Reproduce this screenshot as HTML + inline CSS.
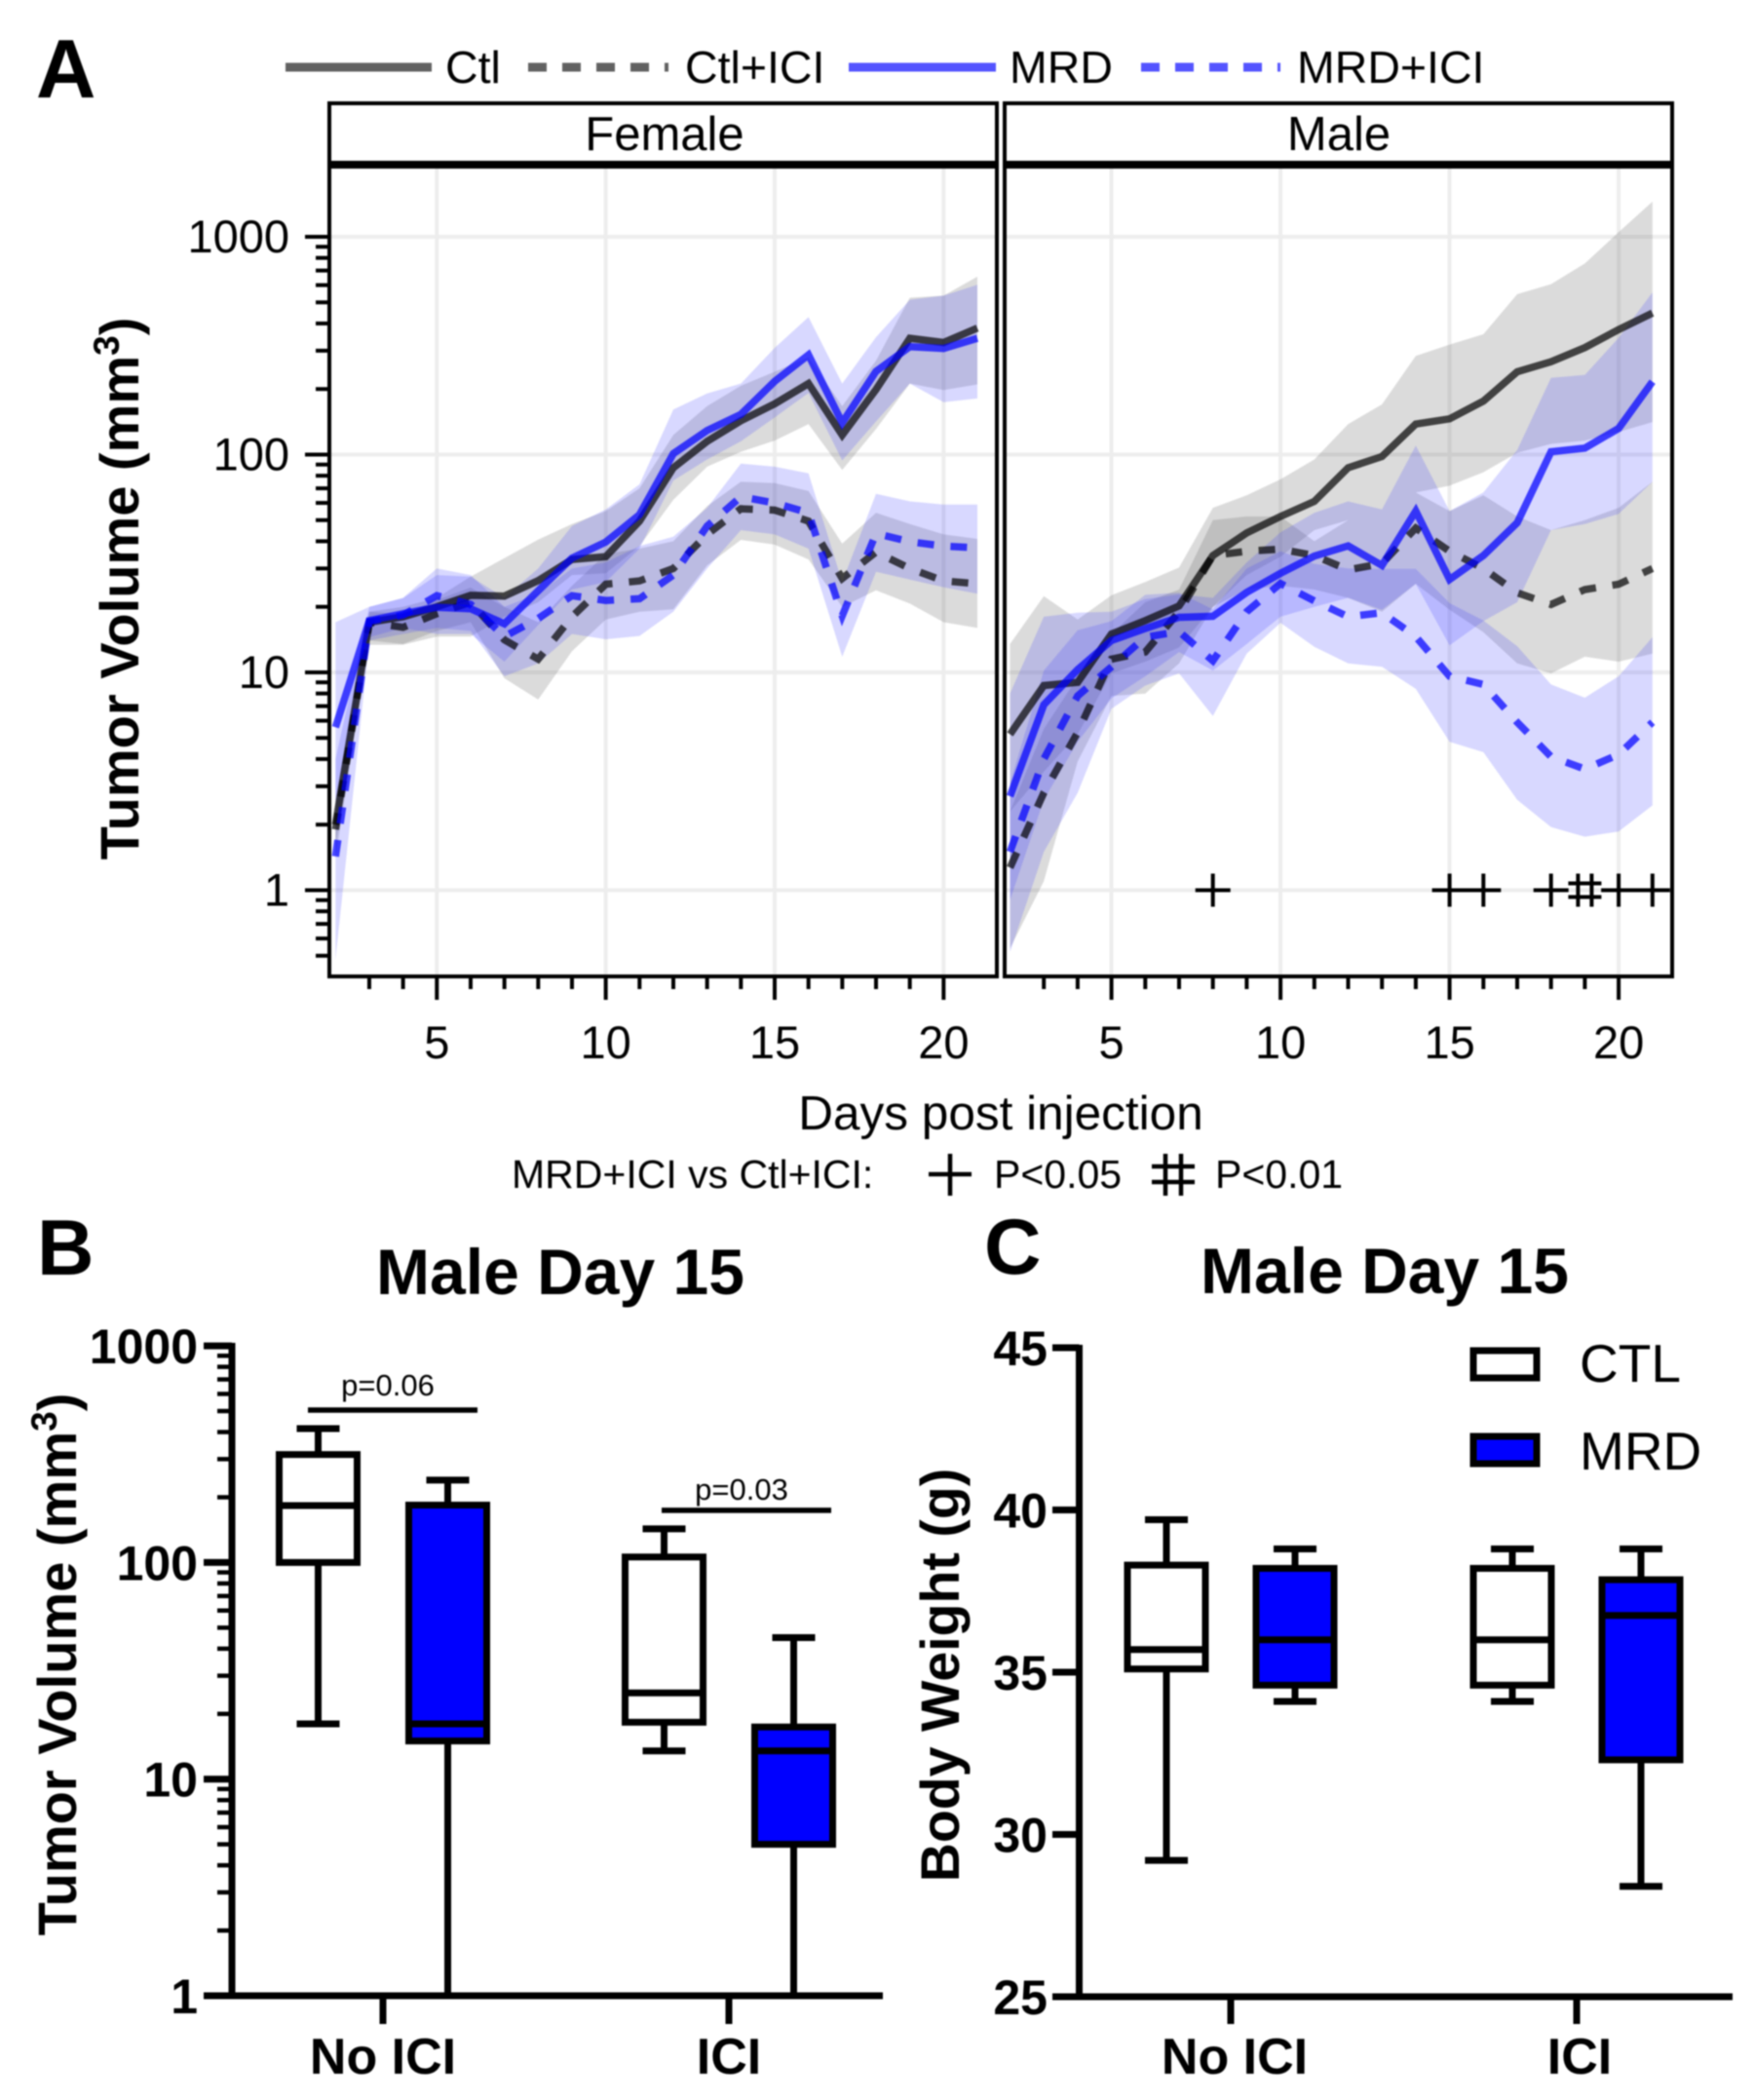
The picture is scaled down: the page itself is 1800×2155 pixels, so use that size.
<!DOCTYPE html>
<html lang="en">
<head>
<meta charset="utf-8">
<title>Tumor volume and body weight</title>
<style>
html,body{margin:0;padding:0;background:#fff}
svg{display:block;filter:blur(0.7px)}
text{font-family:"Liberation Sans",Arial,sans-serif;fill:#000}
.b{font-weight:bold}
</style>
</head>
<body>
<svg id="fig" xmlns="http://www.w3.org/2000/svg" width="1800" height="2155" viewBox="0 0 1800 2155">
<rect x="0" y="0" width="1800" height="2155" fill="#fff"/>

<text class="b" x="37" y="100" font-size="85">A</text>
<text class="b" x="38" y="1308" font-size="81">B</text>
<text class="b" x="1010" y="1307" font-size="81">C</text>

<g>
<line x1="293" y1="69" x2="443" y2="69" stroke="#000" stroke-opacity=".62" stroke-width="9"/>
<text x="457" y="85" font-size="46.5">Ctl</text>
<line x1="542" y1="69" x2="686" y2="69" stroke="#000" stroke-opacity=".62" stroke-width="9" stroke-dasharray="19 16"/>
<text x="703" y="85" font-size="46.5">Ctl+ICI</text>
<line x1="871" y1="69" x2="1022" y2="69" stroke="#0000ff" stroke-opacity=".67" stroke-width="9"/>
<text x="1036" y="85" font-size="46.5">MRD</text>
<line x1="1171" y1="69" x2="1314" y2="69" stroke="#0000ff" stroke-opacity=".67" stroke-width="9" stroke-dasharray="19 16"/>
<text x="1331" y="85" font-size="46.5">MRD+ICI</text>
</g>

<g id="panelA"></g>

<text class="b" transform="translate(142,604) rotate(-90)" text-anchor="middle" font-size="56">Tumor Volume (mm<tspan font-size="37" dy="-20">3</tspan><tspan dy="20">)</tspan></text>
<text x="1027" y="1159" text-anchor="middle" font-size="49.5">Days post injection</text>

<g>
<text x="525" y="1219" font-size="41">MRD+ICI vs Ctl+ICI:</text>
<g stroke="#000" stroke-width="4.5"><line x1="953" y1="1205" x2="997" y2="1205"/><line x1="975" y1="1184" x2="975" y2="1227"/></g>
<text x="1020" y="1219" font-size="41">P&lt;0.05</text>
<g stroke="#000" stroke-width="4.5"><line x1="1182" y1="1197" x2="1226" y2="1197"/><line x1="1182" y1="1213" x2="1226" y2="1213"/><line x1="1196" y1="1184" x2="1196" y2="1227"/><line x1="1212" y1="1184" x2="1212" y2="1227"/></g>
<text x="1247" y="1219" font-size="41">P&lt;0.01</text>
</g>

<text class="b" x="575" y="1328" text-anchor="middle" font-size="66">Male Day 15</text>
<text class="b" x="1421" y="1327" text-anchor="middle" font-size="66">Male Day 15</text>

<g id="panelB"></g>
<text class="b" transform="translate(78,1708) rotate(-90)" text-anchor="middle" font-size="56">Tumor Volume (mm<tspan font-size="37" dy="-20">3</tspan><tspan dy="20">)</tspan></text>

<g id="panelC"></g>
<text class="b" transform="translate(984,1719) rotate(-90)" text-anchor="middle" font-size="55.5">Body Weight (g)</text>

<g>
<rect x="1512" y="1386" width="65" height="28" fill="#fff" stroke="#000" stroke-width="7"/>
<text x="1621" y="1418" font-size="55">CTL</text>
<rect x="1512" y="1474" width="65" height="28" fill="#0000ff" stroke="#000" stroke-width="7"/>
<text x="1621" y="1508" font-size="55">MRD</text>
</g>
</svg>

<script>
// ---------- Panel A data (days post injection, mean and ribbon bounds, mm3) ----------
const days = [2,3,4,5,6,7,8,9,10,11,12,13,14,15,16,17,18,19,20,21];
const dayTicksMajor = [5,10,15,20];
const dayTicksMinor = [3,4,6,7,8,9,11,12,13,14,16,17,18,19];
const volumeTicks = [1,10,100,1000];
const volumeTickLabels = ["1","10","100","1000"];
const volumeMinorTicks = [0.5,0.6,0.7,0.8,0.9,2,3,4,5,6,7,8,9,20,30,40,50,60,70,80,90,200,300,400,500,600,700,800,900];

const femaleCtl = [2.0,17,18,20,22.6,22.4,26.4,33,34,49.5,87,115,143,171,212,123,199,342,327,381];
const femaleCtlUpper = [2.6,19,20,22,27.5,33.5,40.7,48,55,70,123,167,207,240,280,167,270,525,537,656];
const femaleCtlLower = [1.6,13.4,13.4,14.6,14.6,18,21,28,28.5,38,62,88,103,116,138,85,131,212,198,210];
const femaleCtlIci = [1.9,17,16.1,18.6,21,14.1,11.5,18,25.4,26.3,30,43,56.4,55.6,49.5,27,35.7,30,26.3,25.5];
const femaleCtlIciUpper = [2.4,19,18.5,21.5,24.5,20,17,25,35,37,40,58,75,74,68,39,54,48,43,41];
const femaleCtlIciLower = [1.4,14,13.5,15.5,17,9.4,7.5,12.5,17.5,19,19.5,31,40.6,38.6,33,20,23.8,20.7,17,16];
const femaleMrd = [5.6,17.3,18.6,19.9,19.6,16.7,23.7,33.5,39.7,53,101,129,153,217,287,140,241,313,307,342];
const femaleMrdUpper = [17,20,21.9,28,27.5,22,30,47,56,73,161,191,212,309,428,212,346,514,537,602];
const femaleMrdLower = [2.6,14.5,16,15,15,11.2,16.5,24,26,37,76,95,115,148,192,94,142,212,174,181];
const femaleMrdIci = [1.43,17.1,18.3,22.5,20.5,14.6,17.7,22.5,21.4,21.8,28,47,64,60,54,18.2,43.4,39.8,38,37.3];
const femaleMrdIciUpper = [4,20,22,30,28,20,23,30,32,38,42,57,91,88,82,26,66,61,59,59];
const femaleMrdIciLower = [0.48,14,15,16,15.5,9.6,11,15,14.2,14.7,19,30,45,43,37,11.8,29,26.7,24.6,23];

const maleCtl = [5.2,8.7,9,15,17.3,20.2,34.4,43.7,52,61,87,98,138,146,176,240,267,310,375,447];
const maleCtlUpper = [13.5,22.4,17.5,22.6,26,30.3,57,65,77,95,138,170,284,320,357,545,606,754,1050,1450];
const maleCtlLower = [2.3,3.5,5.2,9.9,11.2,13,20,28,34,45,50,56,67,72,83,102,112,116,127,141];
const maleCtlIci = [1.27,2.8,5.3,11.5,12.4,19,34.4,36,36.8,34.4,29.6,31.6,46,36,30,23.2,20.5,24,25.4,30];
const maleCtlIciUpper = [2.3,5.5,9.5,15,21,24,50,52,52,40,50,56,67,55,65,52,45,50,57,75];
const maleCtlIciLower = [0.54,1.1,3.9,7.8,8,11,20,24,25,24,22,19,25.5,19.4,15.3,11,9.9,11.8,11.2,12.2];
const maleMrd = [2.7,7.1,10.3,14,15.9,17.9,18.1,23.3,28.5,34.2,38.1,31,55,26.7,34.4,48.6,103,107,132,216];
const maleMrdUpper = [8,18,18.8,19,21.7,22.8,22,32,44,54,61,56,110,55,67,105,225,232,344,556];
const maleMrdLower = [0.9,2.6,4.8,7.6,9.6,12.4,10.2,13.5,18,20,22,19.4,25.5,13.3,17.2,21,45,48,53.4,75];
const maleMrdIci = [1.5,4,7.8,10.6,14.5,15.4,11.3,19,25.6,21.3,18,18.8,14.6,9.6,8.8,5.9,4.1,3.6,4.2,5.9];
const maleMrdIciUpper = [3.1,10.2,15.6,17.2,22.7,23.2,19.5,30,36,31.5,30,29.9,29.9,20.8,17.3,13.2,8.8,7.65,9.6,14.5];
const maleMrdIciLower = [0.52,1.5,2.8,6.8,8.7,9.9,6.3,12.2,16.9,13.1,11,10.6,8.4,4.8,4.3,2.6,1.95,1.76,1.86,2.45];

const significantP05Days = [8,15,16,18,20,21];
const significantP01Days = [19];
const significanceLevel = 1;

// ---------- Panel B data ----------
const boxGroups = ["No ICI","ICI"];
const boxSeries = ["CTL","MRD"];
const tumorMax = [[415,240],[143,45]];
const tumorQ3 = [[315,184],[106,17.4]];
const tumorMedian = [[183,18],[25,13.5]];
const tumorQ1 = [[100,15],[18.3,5]];
const tumorMin = [[18,1],[13.5,1]];
const tumorTicks = [1,10,100,1000];
const tumorTickLabels = ["1","10","100","1000"];
const tumorMinorTicks = [2,3,4,5,6,7,8,9,20,30,40,50,60,70,80,90,200,300,400,500,600,700,800,900];
const tumorPValues = ["p=0.06","p=0.03"];
const tumorBracketLevels = [505,174];

// ---------- Panel C data ----------
const weightMax = [[39.7,38.8],[38.8,38.8]];
const weightQ3 = [[38.3,38.2],[38.2,37.85]];
const weightMedian = [[35.7,36.0],[36.0,36.75]];
const weightQ1 = [[35.1,34.6],[34.6,32.3]];
const weightMin = [[29.2,34.1],[34.1,28.4]];
const weightTicks = [25,30,35,40,45];
const weightTickLabels = ["25","30","35","40","45"];

// ---------- helpers ----------
const NS = "http://www.w3.org/2000/svg";
const GRAY = "#000000";
const BLUE = "#0000ff";
const panelATop = 106, stripBottom = 169, panelABottom = 1002;
const yA = v => 913.5 - 223.5 * Math.log10(v);
const xFemale = d => 448.3 + (d - 5) * 34.67;
const xMale = d => 1140.6 + (d - 5) * 34.7;

function line(parent, x1, y1, x2, y2, stroke, width, name) {
  const el = document.createElementNS(NS, "line");
  el.setAttribute("x1", x1);
  el.setAttribute("y1", y1);
  el.setAttribute("x2", x2);
  el.setAttribute("y2", y2);
  el.setAttribute("stroke", stroke);
  el.setAttribute("stroke-width", width);
  
  
  parent.appendChild(el);
  return el;
}
function label(parent, x, y, str, size, anchor, bold, name) {
  const el = document.createElementNS(NS, "text");
  el.setAttribute("x", x);
  el.setAttribute("y", y);
  el.setAttribute("font-size", size);
  el.setAttribute("text-anchor", anchor);
  if (bold) el.setAttribute("class", "b");
  el.textContent = str;
  
  
  parent.appendChild(el);
  return el;
}
function ribbon(parent, xs, upper, lower, color, opacity, name) {
  const el = document.createElementNS(NS, "polygon");
  const pts = [];
  days.forEach((d, i) => pts.push(xs(d).toFixed(1) + "," + yA(upper[i]).toFixed(1)));
  for (let i = days.length - 1; i >= 0; i--) pts.push(xs(days[i]).toFixed(1) + "," + yA(lower[i]).toFixed(1));
  el.setAttribute("points", pts.join(" "));
  el.setAttribute("fill", color);
  el.setAttribute("fill-opacity", opacity);
  
  
  parent.appendChild(el);
}
function series(parent, xs, values, color, opacity, dashed, name) {
  const el = document.createElementNS(NS, "polyline");
  el.setAttribute("points", days.map((d, i) => xs(d).toFixed(1) + "," + yA(values[i]).toFixed(1)).join(" "));
  el.setAttribute("fill", "none");
  el.setAttribute("stroke", color);
  el.setAttribute("stroke-opacity", opacity);
  el.setAttribute("stroke-width", "7.5");
  el.setAttribute("stroke-linejoin", "miter");
  if (dashed) el.setAttribute("stroke-dasharray", "17 17");
  
  
  parent.appendChild(el);
}

function facet(left, right, xs, title, titleX, data, prefix) {
  const g = document.getElementById("panelA");
  // grid
  dayTicksMajor.forEach(d => line(g, xs(d), stripBottom, xs(d), panelABottom, "#ededed", 4, prefix + "-x-gridline-" + d));
  volumeTicks.forEach(v => line(g, left, yA(v), right, yA(v), "#ededed", 4, prefix + "-y-gridline-" + v));
  // ribbons
  ribbon(g, xs, data.ctlU, data.ctlL, "#5a5a5a", 0.22, prefix + "-ctl-ribbon");
  ribbon(g, xs, data.ctlIciU, data.ctlIciL, "#5a5a5a", 0.22, prefix + "-ctl-ici-ribbon");
  ribbon(g, xs, data.mrdU, data.mrdL, "#3a3aff", 0.2, prefix + "-mrd-ribbon");
  ribbon(g, xs, data.mrdIciU, data.mrdIciL, "#3a3aff", 0.2, prefix + "-mrd-ici-ribbon");
  // lines
  series(g, xs, data.ctl, GRAY, 0.7, false, prefix + "-ctl-line");
  series(g, xs, data.ctlIci, GRAY, 0.7, true, prefix + "-ctl-ici-line");
  series(g, xs, data.mrd, BLUE, 0.72, false, prefix + "-mrd-line");
  series(g, xs, data.mrdIci, BLUE, 0.72, true, prefix + "-mrd-ici-line");
  // x ticks + labels
  dayTicksMinor.forEach(d => line(g, xs(d), panelABottom, xs(d), 1015, "#000", 4, prefix + "-x-minor-tick-" + d));
  dayTicksMajor.forEach(d => {
    line(g, xs(d), panelABottom, xs(d), 1026, "#000", 4, prefix + "-x-major-tick-" + d);
    label(g, xs(d), 1086, String(d), 47, "middle", false, prefix + "-x-tick-label-" + d);
  });
  // frames
  const strip = document.createElementNS(NS, "rect");
  strip.setAttribute("x", left);
  strip.setAttribute("y", panelATop);
  strip.setAttribute("width", right - left);
  strip.setAttribute("height", panelABottom - panelATop);
  strip.setAttribute("fill", "none");
  strip.setAttribute("stroke", "#000");
  strip.setAttribute("stroke-width", "4");
  
  
  g.appendChild(strip);
  line(g, left - 1, stripBottom, right + 1, stripBottom, "#000", 8, prefix + "-strip-bar");
  label(g, titleX, 154, title, 49, "middle", false, prefix + "-strip-label");
}

facet(338, 1023, xFemale, "Female", 682, {
  ctl: femaleCtl, ctlU: femaleCtlUpper, ctlL: femaleCtlLower,
  ctlIci: femaleCtlIci, ctlIciU: femaleCtlIciUpper, ctlIciL: femaleCtlIciLower,
  mrd: femaleMrd, mrdU: femaleMrdUpper, mrdL: femaleMrdLower,
  mrdIci: femaleMrdIci, mrdIciU: femaleMrdIciUpper, mrdIciL: femaleMrdIciLower
}, "female");
facet(1031, 1716, xMale, "Male", 1374, {
  ctl: maleCtl, ctlU: maleCtlUpper, ctlL: maleCtlLower,
  ctlIci: maleCtlIci, ctlIciU: maleCtlIciUpper, ctlIciL: maleCtlIciLower,
  mrd: maleMrd, mrdU: maleMrdUpper, mrdL: maleMrdLower,
  mrdIci: maleMrdIci, mrdIciU: maleMrdIciUpper, mrdIciL: maleMrdIciLower
}, "male");

// Panel A y axis
(function () {
  const g = document.getElementById("panelA");
  volumeMinorTicks.forEach(v => line(g, 324, yA(v), 338, yA(v), "#000", 4, "y-minor-tick-" + v));
  volumeTicks.forEach((v, i) => {
    line(g, 313, yA(v), 338, yA(v), "#000", 4, "y-major-tick-" + v);
    label(g, 297, yA(v) + 16, volumeTickLabels[i], 47, "end", false, "y-tick-label-" + v);
  });
  const yS = yA(significanceLevel);
  significantP05Days.forEach(d => {
    const x = xMale(d);
    line(g, x - 18, yS, x + 18, yS, "#000", 4, "p05-marker-h-day-" + d);
    line(g, x, yS - 17, x, yS + 17, "#000", 4, "p05-marker-v-day-" + d);
  });
  significantP01Days.forEach(d => {
    const x = xMale(d);
    line(g, x - 17, yS - 7, x + 17, yS - 7, "#000", 4, "p01-marker-h1-day-" + d);
    line(g, x - 17, yS + 7, x + 17, yS + 7, "#000", 4, "p01-marker-h2-day-" + d);
    line(g, x - 7, yS - 17, x - 7, yS + 17, "#000", 4, "p01-marker-v1-day-" + d);
    line(g, x + 7, yS - 17, x + 7, yS + 17, "#000", 4, "p01-marker-v2-day-" + d);
  });
})();

// Box plots
function boxes(g, prefix, yScale, groupX, q3, med, q1, hi, lo, offset) {
  boxGroups.forEach((grp, gi) => {
    boxSeries.forEach((ser, si) => {
      const cx = groupX(gi) + (si === 0 ? -offset : offset);
      const nm = prefix + "-" + grp.toLowerCase().replace(" ", "-") + "-" + ser.toLowerCase();
      line(g, cx, yScale(hi[gi][si]), cx, yScale(q3[gi][si]), "#000", 7, nm + "-upper-whisker");
      line(g, cx, yScale(q1[gi][si]), cx, yScale(lo[gi][si]), "#000", 7, nm + "-lower-whisker");
      if (lo[gi][si] > 1) line(g, cx - 22, yScale(lo[gi][si]), cx + 22, yScale(lo[gi][si]), "#000", 7, nm + "-lower-cap");
      line(g, cx - 22, yScale(hi[gi][si]), cx + 22, yScale(hi[gi][si]), "#000", 7, nm + "-upper-cap");
      const r = document.createElementNS(NS, "rect");
      r.setAttribute("x", cx - 40);
      r.setAttribute("y", yScale(q3[gi][si]));
      r.setAttribute("width", 80);
      r.setAttribute("height", yScale(q1[gi][si]) - yScale(q3[gi][si]));
      r.setAttribute("fill", si === 0 ? "#fff" : "#0000ff");
      r.setAttribute("stroke", "#000");
      r.setAttribute("stroke-width", "7");
      
      
      g.appendChild(r);
      line(g, cx - 40, yScale(med[gi][si]), cx + 40, yScale(med[gi][si]), "#000", 7, nm + "-median");
    });
  });
}

// Panel B
(function () {
  const g = document.getElementById("panelB");
  const y = v => 2048 - 222.3 * Math.log10(v);
  const gx = i => 393 + i * 355;
  const axisX = 238;
  boxes(g, "tumor", y, gx, tumorQ3, tumorMedian, tumorQ1, tumorMax, tumorMin, 66.5);
  line(g, axisX, 1378, axisX, 2051, "#000", 7, "panel-b-y-axis");
  line(g, 209, 2048, 906, 2048, "#000", 7, "panel-b-x-axis");
  tumorMinorTicks.forEach(v => line(g, 223, y(v), axisX, y(v), "#000", 4.5, "panel-b-y-minor-tick-" + v));
  tumorTicks.forEach((v, i) => {
    line(g, 209, y(v), axisX, y(v), "#000", 7, "panel-b-y-major-tick-" + v);
    label(g, 203, y(v) + 18, tumorTickLabels[i], 50, "end", true, "panel-b-y-tick-label-" + v);
  });
  boxGroups.forEach((grp, i) => {
    line(g, gx(i), 2048, gx(i), 2077, "#000", 7, "panel-b-x-tick-" + i);
    label(g, gx(i), 2128, grp, 52, "middle", true, "panel-b-x-tick-label-" + i);
    const by = y(tumorBracketLevels[i]);
    const mid = 403 + i * 363;
    line(g, mid - 87, by, mid + 87, by, "#000", 5.5, "panel-b-p-bracket-" + i);
    label(g, mid - 5, by - 15 + i * 4, tumorPValues[i], 31, "middle", false, "panel-b-p-label-" + i);
  });
})();

// Panel C
(function () {
  const g = document.getElementById("panelC");
  const y = v => 2049 - 33.3 * (v - 25);
  const gx = i => 1263 + i * 355;
  const axisX = 1107.5;
  boxes(g, "weight", y, gx, weightQ3, weightMedian, weightQ1, weightMax, weightMin, 66);
  line(g, axisX, 1380, axisX, 2052, "#000", 7, "panel-c-y-axis");
  line(g, 1080, 2049, 1778, 2049, "#000", 7, "panel-c-x-axis");
  weightTicks.forEach((v, i) => {
    line(g, 1080, y(v), axisX, y(v), "#000", 7, "panel-c-y-tick-" + v);
    label(g, 1075, y(v) + 18, weightTickLabels[i], 50, "end", true, "panel-c-y-tick-label-" + v);
  });
  boxGroups.forEach((grp, i) => {
    line(g, gx(i), 2049, gx(i), 2077, "#000", 7, "panel-c-x-tick-" + i);
    label(g, gx(i) + 4 - i, 2128, grp, 52, "middle", true, "panel-c-x-tick-label-" + i);
  });
})();
</script>
</body>
</html>
